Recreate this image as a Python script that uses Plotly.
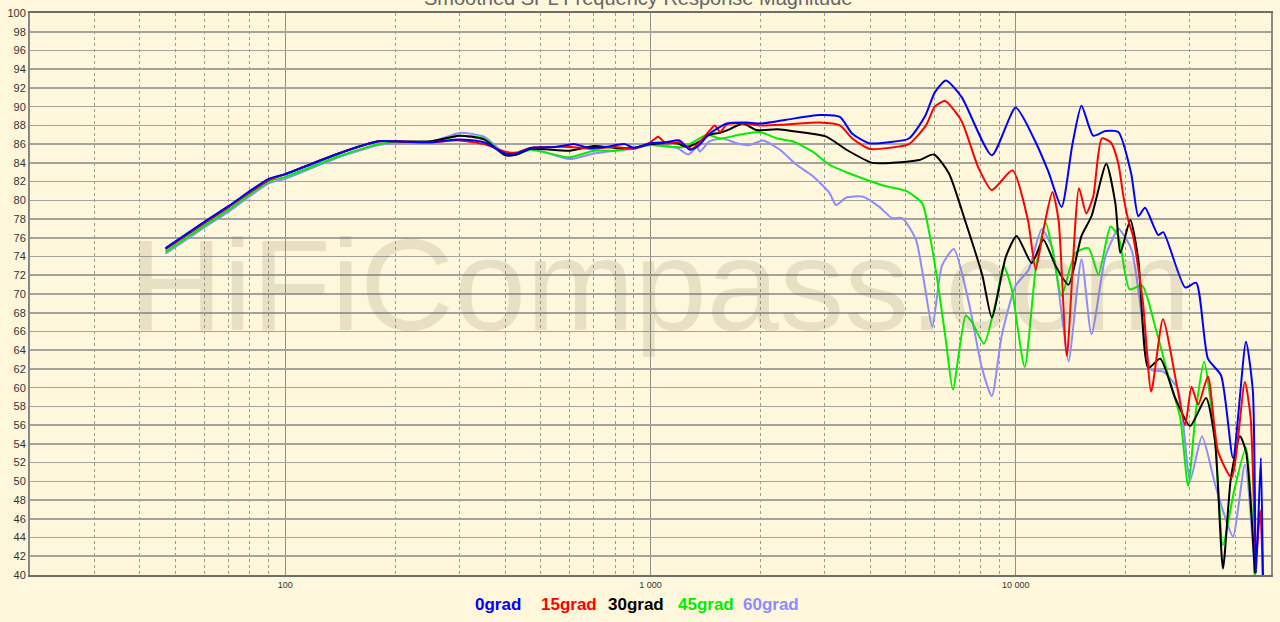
import numpy as np
import plotly.graph_objects as go

# ---------------- data ----------------
f_0 = [47, 60, 70, 90, 100, 140, 180, 200, 250, 300, 350, 400, 430, 470, 550, 620, 680, 750, 850, 900,
       1000, 1100, 1200, 1280, 1350, 1450, 1620, 1830, 2000, 2350, 2900, 3300, 3570, 3970, 4500, 5100,
       5650, 6000, 6440, 7120, 8600, 10000, 11340, 12300, 13350, 14300, 15140, 16300, 17600, 19100,
       20700, 21660, 22600, 24550, 25350, 29100, 31200, 33600, 36500, 39350, 42700, 44600, 45500,
       46900, 47500]
db_0 = [74.9, 77.7, 79.4, 82.3, 82.8, 85.0, 86.3, 86.3, 86.2, 86.5, 86.2, 85.0, 85.0, 85.6, 85.7, 86.0,
        85.6, 85.7, 86.0, 85.6, 86.1, 86.2, 86.4, 85.4, 85.8, 87.1, 88.2, 88.3, 88.2, 88.6, 89.1, 88.9,
        87.1, 86.1, 86.2, 86.6, 89.0, 91.5, 92.8, 91.0, 84.8, 89.9, 86.2, 83.0, 79.3, 86.0, 90.1, 86.9,
        87.4, 87.3, 82.9, 78.3, 79.2, 76.3, 76.6, 70.7, 71.2, 63.1, 61.3, 52.5, 64.9, 59.6, 40.2, 52.5,
        40.0]

f_15 = [47, 60, 70, 90, 100, 140, 180, 200, 250, 300, 350, 400, 430, 470, 600, 690, 800, 900, 1000,
        1050, 1100, 1200, 1300, 1400, 1500, 1550, 1620, 1830, 2000, 2350, 2900, 3300, 3570, 3970, 4500,
        5100, 5680, 6000, 6400, 7100, 7900, 8600, 9800, 10800, 11340, 11900, 12600, 13100, 13800, 14900,
        15600, 16300, 17200, 18200, 19100, 19700, 20300, 21000, 22300, 23500, 25300, 27600, 29100,
        30300, 31600, 33600, 35800, 39000, 42400, 44000, 45500, 46700, 47500]
db_15 = [74.8, 77.6, 79.3, 82.2, 82.8, 85.0, 86.3, 86.3, 86.2, 86.4, 86.0, 85.2, 85.1, 85.6, 85.7, 85.5,
         85.7, 85.5, 86.2, 86.8, 86.1, 86.2, 85.5, 86.7, 88.0, 87.3, 88.1, 88.2, 88.0, 88.1, 88.3, 88.0,
         86.6, 85.5, 85.6, 86.0, 88.0, 90.0, 90.6, 88.5, 83.5, 81.1, 83.2, 77.9, 72.6, 76.8, 80.9, 77.9,
         63.4, 81.3, 78.6, 80.4, 86.6, 86.2, 83.9, 80.5, 78.0, 76.0, 69.1, 59.6, 67.3, 60.3, 56.0, 60.1,
         58.2, 61.2, 53.2, 50.4, 60.6, 56.7, 41.9, 46.9, 40.0]

f_30 = [47, 60, 70, 90, 100, 140, 180, 200, 250, 300, 350, 400, 430, 470, 600, 700, 800, 900, 1000,
        1180, 1260, 1365, 1450, 1550, 1650, 1790, 1950, 2220, 2560, 3030, 3440, 4050, 4590, 5440, 5970,
        6560, 7300, 8100, 8600, 9400, 10060, 11060, 11900, 12860, 13950, 15140, 16120, 17700, 18740,
        19340, 20600, 21660, 23070, 24870, 27330, 30020, 33200, 35130, 36940, 38840, 41110, 42700,
        45170]
db_30 = [74.8, 77.6, 79.3, 82.2, 82.8, 85.0, 86.3, 86.3, 86.3, 86.9, 86.5, 84.8, 84.9, 85.5, 85.3, 85.8,
         85.6, 85.6, 86.0, 86.1, 85.7, 86.3, 87.0, 87.2, 87.6, 88.2, 87.5, 87.6, 87.3, 86.8, 85.4, 84.0,
         84.0, 84.3, 84.9, 82.9, 77.6, 72.0, 67.5, 74.0, 76.2, 73.3, 75.8, 73.0, 71.0, 76.2, 78.3, 83.9,
         79.7, 74.4, 77.9, 73.7, 62.1, 63.1, 58.9, 55.9, 58.9, 54.3, 40.7, 50.4, 54.8, 53.2, 40.2]

f_45 = [47, 60, 70, 90, 100, 140, 180, 200, 250, 300, 350, 400, 430, 470, 600, 700, 800, 900, 1000,
        1230, 1430, 1550, 1750, 1990, 2220, 2450, 2780, 3090, 3440, 3900, 4420, 5010, 5540, 5800, 6100,
        6440, 6730, 7300, 7590, 8180, 8820, 9270, 9750, 10580, 11340, 12080, 12590, 13350, 14580, 15820,
        16850, 18170, 19100, 20500, 22200, 24100, 26150, 28200, 29650, 31200, 32780, 35130, 36940,
        39630, 42700, 45170]
db_45 = [74.5, 77.3, 79.0, 82.0, 82.5, 84.7, 86.0, 86.2, 86.2, 86.9, 86.6, 84.9, 84.9, 85.4, 84.6, 85.3,
         85.3, 85.6, 85.9, 85.7, 87.0, 86.6, 87.0, 87.3, 86.6, 86.3, 85.2, 83.8, 83.0, 82.2, 81.5, 81.0,
         79.7, 76.5, 71.5, 65.0, 59.8, 67.7, 67.0, 64.7, 69.1, 73.0, 70.5, 62.2, 72.6, 77.6, 74.8, 69.8,
         74.4, 74.9, 72.1, 77.2, 76.2, 70.5, 70.9, 66.5, 61.3, 56.8, 49.5, 57.8, 62.8, 54.6, 43.2, 49.0,
         53.6, 40.0]

f_60 = [47, 60, 70, 90, 100, 140, 180, 200, 250, 300, 350, 400, 430, 470, 600, 700, 800, 900, 1000,
        1180, 1270, 1340, 1365, 1450, 1580, 1720, 1870, 2030, 2260, 2510, 2780, 3090, 3220, 3440, 3800,
        4230, 4590, 4890, 5330, 5600, 5910, 6280, 6770, 7440, 8080, 8600, 9160, 10000, 10850, 11780,
        12590, 13350, 13950, 15140, 16120, 17600, 18740, 19100, 20730, 22340, 23500, 25350, 27850,
        30020, 32360, 35130, 37410, 39350, 42420, 45170]
db_60 = [74.3, 77.1, 78.8, 81.8, 82.3, 84.6, 85.9, 86.1, 86.2, 87.2, 86.8, 85.0, 84.9, 85.5, 84.4, 85.0,
         85.3, 85.5, 85.9, 85.6, 84.9, 85.7, 85.2, 86.3, 86.6, 86.1, 85.9, 86.4, 85.4, 83.8, 82.6, 80.8,
         79.5, 80.3, 80.4, 79.3, 78.1, 78.1, 75.8, 71.5, 66.5, 73.0, 74.8, 69.1, 62.1, 59.1, 65.6, 70.9,
         72.6, 76.9, 74.9, 68.0, 62.8, 73.7, 65.7, 74.0, 76.5, 77.0, 74.8, 66.6, 61.9, 61.7, 59.8, 50.1,
         54.8, 49.7, 46.2, 44.1, 51.8, 40.0]

series_names = ["0grad", "15grad", "30grad", "45grad", "60grad"]
series_f = [f_0, f_15, f_30, f_45, f_60]
series_db = [db_0, db_15, db_30, db_45, db_60]
series_colors = ["#0000FF", "#FF0000", "#000000", "#00EE00", "#8C8CFF"]

x_ticks = [100, 1000, 10000]
x_ticktext = ["100", "1 000", "10 000"]
x_minor = [30, 40, 50, 60, 70, 80, 90, 200, 300, 400, 500, 600, 700, 800, 900,
           2000, 3000, 4000, 5000, 6000, 7000, 8000, 9000, 20000, 30000, 40000]
x_range = [20, 50000]
y_range = [40, 100]

title_text = "Smoothed SPL Frequency Response Magnitude"
watermark = "HiFiCompass.com"

# ---------------- figure ----------------
bg = "#FFF7DB"
W, H = 1280, 622
ML, MR, MT, MB = 30, 7, 8, 47
fig = go.Figure()
order = [4, 3, 2, 1, 0]
for i in order:
    fig.add_trace(go.Scatter(
        x=series_f[i], y=series_db[i], mode="lines", name=series_names[i],
        line=dict(color=series_colors[i], width=2, shape="spline", smoothing=0.6),
        showlegend=False, hoverinfo="skip"))

# legend entries as coloured text under the axis
legend_centers_px = [499, 570, 637, 707, 772]
annotations = [
    dict(text=watermark, xref="paper", yref="paper", x=0.508, y=0.516,
         xanchor="center", yanchor="middle", showarrow=False,
         font=dict(size=130, family="Liberation Sans, Arial, sans-serif",
                   color="rgba(120,110,85,0.17)")),
    dict(text=title_text, xref="paper", yref="paper", x=(639 - ML) / (W - ML - MR), y=1,
         xanchor="center", yanchor="bottom", yshift=2, showarrow=False,
         font=dict(size=20, color="#666666")),
]
for n, c, px in zip(series_names, series_colors, legend_centers_px):
    annotations.append(dict(
        text="<b>" + n + "</b>", xref="paper", yref="paper",
        x=(px - ML) / (W - ML - MR), y=0, yshift=-29,
        xanchor="center", yanchor="middle", showarrow=False,
        font=dict(size=17, color=c,
                  family="Liberation Sans Narrow, Arial Narrow, Liberation Sans, sans-serif")))

fig.update_layout(
    width=W, height=H,
    margin=dict(l=ML, r=MR, t=MT, b=MB, pad=0),
    paper_bgcolor=bg, plot_bgcolor=bg,
    font=dict(family="Liberation Sans, Arial, sans-serif", color="#333333"),
    xaxis=dict(
        type="log", range=[np.log10(x_range[0]), np.log10(x_range[1])],
        tickmode="array", tickvals=x_ticks, ticktext=x_ticktext,
        tickfont=dict(size=9, color="#333333"), ticks="",
        showgrid=True, gridcolor="#8f8f88", gridwidth=1,
        minor=dict(tickmode="array", tickvals=x_minor, showgrid=True,
                   griddash="3px,3px", gridcolor="#9a9a92", gridwidth=1, ticks=""),
        showline=True, linecolor="#6e6e6a", linewidth=2, mirror=True,
        zeroline=False),
    yaxis=dict(
        range=y_range, dtick=2, tick0=40,
        tickfont=dict(size=11, color="#333333"), ticks="",
        showgrid=True, gridcolor="#a3a39b", gridwidth=1.6,
        showline=True, linecolor="#8a8a85", linewidth=2, mirror=True,
        zeroline=False),
    annotations=annotations,
)

fig.write_html(
    "out.html",
    config={"displayModeBar": False, "staticPlot": True},
    post_script="document.body.style.margin='0';document.body.style.background='" + bg + "';",
)
